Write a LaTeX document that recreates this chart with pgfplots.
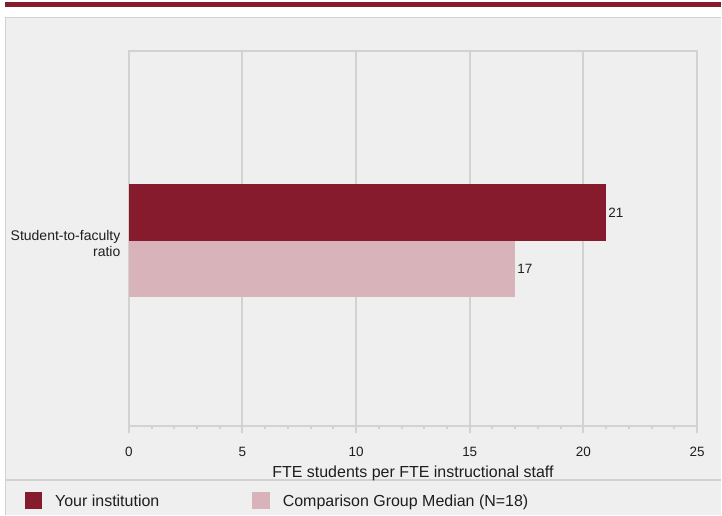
\documentclass[border=0pt]{standalone}
\usepackage{pgfplots}
\pgfplotsset{compat=1.18}
\usepackage{fontspec}
\setmainfont{Liberation Sans}
\definecolor{maroon}{HTML}{861B2D}
\definecolor{pinkc}{HTML}{D8B3BA}
\definecolor{panel}{HTML}{EFEFEF}
\definecolor{gridgray}{HTML}{D2D2D2}
\definecolor{bordergray}{HTML}{D2D2D2}
\definecolor{txt}{HTML}{1E1E1E}
\begin{document}
\begin{tikzpicture}[x=1pt,y=1pt]
\fill[white] (0,0) rectangle (722,516);
\fill[maroon] (5,509) rectangle (722,514);
\fill[panel] (5,0) rectangle (722,499);
\draw[bordergray, line width=1pt] (5.5,0) -- (5.5,498.5) -- (722,498.5);
\draw[bordergray, line width=2pt] (5,35) -- (722,35);
\begin{axis}[
  at={(129pt,89pt)}, anchor=south west,
  scale only axis, width=569pt, height=376pt,
  xmin=0, xmax=25, ymin=-0.99, ymax=1.01,
  xbar, bar width=0.3,
  /pgf/number format/assume math mode=true,
  xtick={0,5,...,25}, minor x tick num=4,
  xtick pos=lower,
  ytick={0}, yticklabels={{Student-to-faculty\\ratio}},
  yticklabel style={align=right, font=\fontsize{14}{16}\selectfont, text=txt, xshift=2pt, yshift=-3pt},
  xticklabel style={font=\fontsize{13.5}{15}\selectfont, text=txt, yshift=-10pt},
  axis line style={gridgray, line width=2pt},
  xmajorgrids, grid style={gridgray, line width=2pt},
  xtick style={gridgray, line width=2pt},
  ytick style={draw=none},
  major tick length=7pt, minor tick length=3pt,
  tick align=outside,
  xlabel={FTE students per FTE instructional staff},
  xlabel style={font=\fontsize{16}{18}\selectfont, text=txt, yshift=-3pt},
  nodes near coords,
  nodes near coords style={anchor=west, font=\fontsize{13.5}{15}\selectfont, text=txt, inner sep=2pt},
  point meta=x,
]
\addplot[fill=maroon, draw=none, bar shift=0.15] coordinates {(21,0)};
\addplot[fill=pinkc, draw=none, bar shift=-0.15] coordinates {(17,0)};
\end{axis}
\fill[maroon] (25,6) rectangle (42,23);
\node[anchor=base west, inner sep=0pt, text=txt, font=\fontsize{16}{18}\selectfont] at (55,9) {Your institution};
\fill[pinkc] (252,6) rectangle (270,23);
\node[anchor=base west, inner sep=0pt, text=txt, font=\fontsize{16}{18}\selectfont] at (283,9) {Comparison Group Median (N=18)};
\end{tikzpicture}
\end{document}
